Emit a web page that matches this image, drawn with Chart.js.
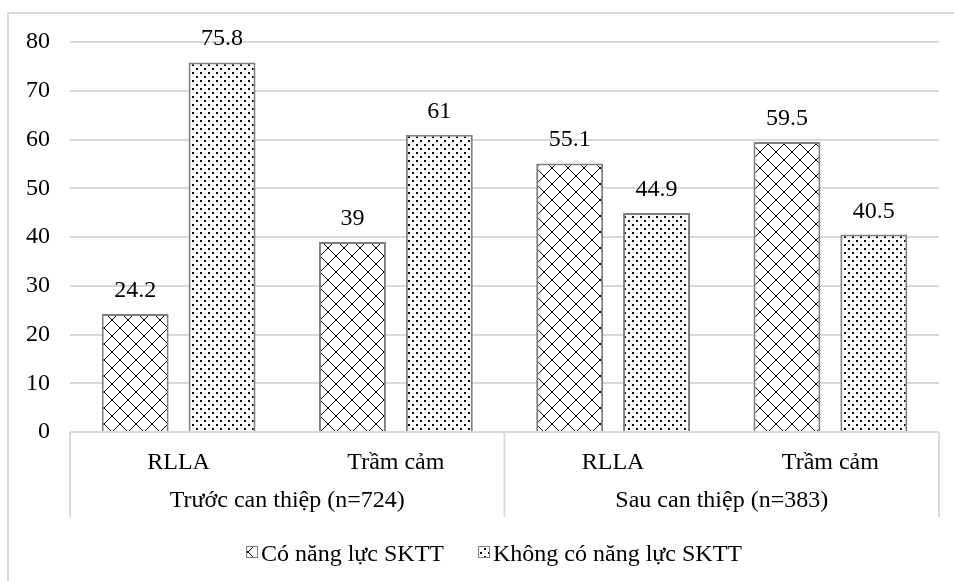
<!DOCTYPE html>
<html>
<head>
<meta charset="utf-8">
<script src="https://cdn.jsdelivr.net/npm/chart.js@4/dist/chart.umd.min.js"></script>
<style>
html,body{margin:0;padding:0;background:#fff;}
canvas{display:block;}
</style>
</head>
<body>
<canvas id="c" width="954" height="581"></canvas>
<script>
// ---- data ----
const categories = ['RLLA', 'Trầm cảm', 'RLLA', 'Trầm cảm'];
const groups = ['Trước can thiệp (n=724)', 'Sau can thiệp (n=383)'];
const seriesNames = ['Có năng lực SKTT', 'Không có năng lực SKTT'];
const coNangLuc = [24.2, 39, 55.1, 59.5];
const khongNangLuc = [75.8, 61, 44.9, 40.5];
const yTicks = [0, 10, 20, 30, 40, 50, 60, 70, 80];

const FONT = "'Liberation Serif', 'Times New Roman', serif";
const GRID = '#d9d9d9';

const canvas = document.getElementById('c');
const ctx = canvas.getContext('2d');

function crossPattern() {
  const c = document.createElement('canvas');
  c.width = 16; c.height = 16;
  const g = c.getContext('2d');
  g.fillStyle = '#fff'; g.fillRect(0, 0, 16, 16);
  g.fillStyle = '#000';
  for (let i = 0; i < 16; i++) {
    g.fillRect(i, i, 1, 1);
    g.fillRect(15 - i, i, 1, 1);
  }
  return ctx.createPattern(c, 'repeat');
}
function dotPattern() {
  const c = document.createElement('canvas');
  c.width = 8; c.height = 8;
  const g = c.getContext('2d');
  g.fillStyle = '#fff'; g.fillRect(0, 0, 8, 8);
  g.fillStyle = '#000';
  g.fillRect(0, 0, 2, 2);
  g.fillRect(4, 4, 2, 2);
  return ctx.createPattern(c, 'repeat');
}
const patCross = crossPattern();
const patDot = dotPattern();

const overlay = {
  id: 'overlay',
  afterDatasetsDraw(chart) {
    const c = chart.ctx;
    const area = chart.chartArea;
    const xs = chart.scales.x;
    c.save();
    // data labels
    c.fillStyle = '#000';
    c.font = '24px ' + FONT;
    c.textAlign = 'center';
    c.textBaseline = 'alphabetic';
    chart.data.datasets.forEach((ds, di) => {
      const meta = chart.getDatasetMeta(di);
      meta.data.forEach((bar, i) => {
        c.fillText(String(ds.data[i]), bar.x, bar.y - 17);
      });
    });
    // x axis line
    c.strokeStyle = GRID;
    c.lineWidth = 2;
    c.beginPath();
    c.moveTo(area.left, area.bottom);
    c.lineTo(area.right, area.bottom);
    c.stroke();
    // separators
    const n = categories.length;
    const per = n / groups.length;
    const bottomSep = area.bottom + 85;
    for (let g = 0; g <= groups.length; g++) {
      let x;
      if (g === 0) x = area.left;
      else if (g === groups.length) x = area.right;
      else x = (xs.getPixelForValue(g * per - 1) + xs.getPixelForValue(g * per)) / 2;
      c.beginPath();
      c.moveTo(x, area.bottom);
      c.lineTo(x, bottomSep);
      c.stroke();
    }
    // category labels
    c.fillStyle = '#000';
    c.font = '24px ' + FONT;
    categories.forEach((lab, i) => {
      c.fillText(lab, xs.getPixelForValue(i), area.bottom + 37);
    });
    groups.forEach((lab, g) => {
      const x0 = xs.getPixelForValue(g * per);
      const x1 = xs.getPixelForValue(g * per + per - 1);
      c.fillText(lab, (x0 + x1) / 2, area.bottom + 75);
    });
    // legend
    c.font = '24px ' + FONT;
    c.textAlign = 'left';
    const pats = [patCross, patDot];
    const box = 12, gapBoxText = 3, gapItems = 34;
    const widths = seriesNames.map(s => c.measureText(s).width);
    let total = 0;
    widths.forEach((w, i) => { total += box + gapBoxText + w + (i ? gapItems : 0); });
    let lx = 494 - total / 2;
    const ly = 553;
    seriesNames.forEach((s, i) => {
      c.fillStyle = pats[i];
      c.fillRect(lx, ly - box / 2 - 1, box, box);
      c.strokeStyle = '#808080';
      c.lineWidth = 1;
      c.strokeRect(lx + 0.5, ly - box / 2 - 0.5, box - 1, box - 1);
      c.fillStyle = '#000';
      c.fillText(s, lx + box + gapBoxText, ly + 8);
      lx += box + gapBoxText + widths[i] + gapItems;
    });
    // outer border
    c.strokeStyle = GRID;
    c.lineWidth = 2;
    c.beginPath();
    c.moveTo(8, 581);
    c.lineTo(8, 13);
    c.lineTo(954, 13);
    c.stroke();
    c.restore();
  }
};

new Chart(ctx, {
  type: 'bar',
  data: {
    labels: categories.map((c, i) => c + ' ' + i),
    datasets: [
      { label: seriesNames[0], data: coNangLuc, backgroundColor: patCross, borderColor: '#7f7f7f', borderWidth: 2 },
      { label: seriesNames[1], data: khongNangLuc, backgroundColor: patDot, borderColor: '#7f7f7f', borderWidth: 2 }
    ]
  },
  options: {
    responsive: false,
    animation: false,
    devicePixelRatio: 1,
    categoryPercentage: 0.8,
    barPercentage: 0.77,
    layout: { padding: { left: 8, right: 15, top: 42, bottom: 149 } },
    plugins: { legend: { display: false }, tooltip: { enabled: false } },
    scales: {
      x: { display: false },
      y: {
        min: 0, max: 80,
        afterBuildTicks(scale) { scale.ticks = yTicks.map(v => ({ value: v })); },
        afterFit(scale) { scale.width = 62; },
        ticks: { font: { family: FONT, size: 24 }, color: '#000', padding: 20 },
        grid: { color: GRID, lineWidth: 2, drawTicks: false },
        border: { display: false }
      }
    }
  },
  plugins: [overlay]
});
</script>
</body>
</html>
